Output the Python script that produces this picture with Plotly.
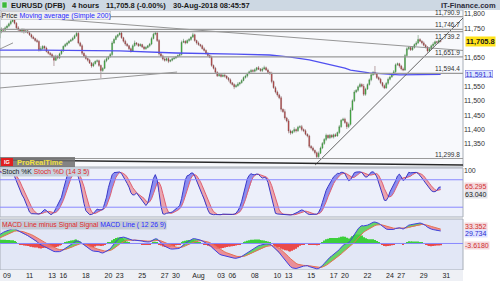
import numpy as np
import pandas as pd
import plotly.graph_objects as go

# ---------------- data (EUR/USD DFB, 4-hour bars, prices x10000) ----------------
# warm-up closes (Jul 2 - Jul 6 morning), only used to seed the indicators
pre_closes = [11650, 11640, 11625, 11610, 11600, 11595,
              11605, 11620, 11640, 11655, 11660, 11655,
              11650, 11655, 11660, 11665, 11660, 11658,
              11662, 11670, 11680, 11690, 11688, 11692,
              11700, 11716]

closes = [
    11738, 11748, 11744, 11752,                      # Jul 6 (tail)
    11758, 11766, 11774, 11780, 11768, 11752,        # Jul 9
    11745, 11740, 11746, 11738, 11742, 11735,        # Jul 10
    11728, 11720, 11715, 11708, 11705, 11676,        # Jul 11
    11680, 11688, 11682, 11670, 11664, 11660,        # Jul 12
    11652, 11640, 11654, 11648, 11662, 11672,        # Jul 13
    11688, 11694, 11700, 11706, 11710, 11716,        # Jul 16
    11725, 11733, 11700, 11690, 11664, 11655,        # Jul 17
    11646, 11640, 11630, 11620, 11628, 11636,        # Jul 18
    11638, 11622, 11604, 11612, 11638, 11645,        # Jul 19
    11652, 11660, 11700, 11712, 11722, 11728,        # Jul 20
    11734, 11718, 11706, 11696, 11690, 11680,        # Jul 23
    11672, 11690, 11700, 11696, 11690, 11694,        # Jul 24
    11686, 11680, 11684, 11690, 11696, 11715,        # Jul 25
    11730, 11734, 11708, 11662, 11655, 11644,        # Jul 26
    11640, 11646, 11636, 11640, 11645, 11648,        # Jul 27
    11652, 11656, 11660, 11702, 11706, 11700,        # Jul 30
    11708, 11712, 11720, 11728, 11708, 11700,        # Jul 31
    11694, 11690, 11680, 11674, 11664, 11656,        # Aug 1
    11650, 11622, 11612, 11598, 11586, 11590,        # Aug 2
    11584, 11588, 11585, 11578, 11572, 11562,        # Aug 3
    11556, 11548, 11552, 11558, 11562, 11570,        # Aug 6
    11580, 11585, 11594, 11600, 11604, 11602,        # Aug 7
    11607, 11614, 11609, 11604, 11610, 11614,        # Aug 8
    11606, 11598, 11594, 11566, 11545, 11530,        # Aug 9
    11520, 11510, 11470, 11462, 11440, 11430,        # Aug 10
    11395, 11388, 11394, 11400, 11396, 11408,        # Aug 13
    11410, 11400, 11396, 11384, 11378, 11342,        # Aug 14
    11336, 11328, 11320, 11306, 11318, 11336,        # Aug 15
    11352, 11366, 11380, 11372, 11380, 11374,        # Aug 16
    11382, 11378, 11390, 11410, 11432, 11436,        # Aug 17
    11424, 11410, 11418, 11468, 11500, 11530,        # Aug 20
    11536, 11548, 11556, 11550, 11522, 11540,        # Aug 21
    11556, 11572, 11590, 11598, 11592, 11580,        # Aug 22
    11574, 11562, 11552, 11544, 11560, 11574,        # Aug 23
    11582, 11590, 11600, 11624, 11628, 11620,        # Aug 24
    11610, 11606, 11656, 11680, 11684, 11676,        # Aug 27
    11684, 11694, 11700, 11712, 11706, 11700,        # Aug 28
    11692, 11686, 11672, 11680, 11690, 11696,        # Aug 29
    11704, 11702, 11708, 11705.8,                    # Aug 30
]

upper_wick = [
    4, 6, 3, 5,
    5, 4, 6, 11, 3, 4,   6, 3, 5, 4, 3, 4,   3, 4, 5, 3, 6, 4,   8, 4, 3, 5, 3, 4,   4, 6, 5, 3, 4, 5,
    3, 5, 4, 3, 4, 5,    4, 7, 6, 4, 5, 3,   4, 3, 5, 4, 6, 3,   5, 4, 3, 4, 5, 6,   3, 5, 6, 4, 5, 3,
    6, 4, 3, 5, 4, 3,    4, 5, 8, 3, 4, 5,   3, 4, 5, 3, 4, 6,   5, 6, 4, 5, 3, 4,   6, 4, 5, 3, 4, 5,
    3, 4, 5, 6, 8, 3,    4, 5, 3, 7, 4, 3,   5, 3, 4, 5, 3, 4,   4, 6, 3, 5, 4, 6,   5, 4, 8, 3, 4, 5,
    3, 4, 5, 6, 3, 4,    4, 5, 3, 4, 6, 5,   5, 3, 6, 4, 5, 7,   4, 5, 3, 6, 4, 5,   5, 4, 6, 3, 8, 4,
    6, 5, 4, 8, 4, 5,    5, 6, 4, 5, 3, 4,   4, 5, 3, 4, 6, 5,   5, 4, 6, 3, 5, 4,   4, 5, 3, 6, 4, 5,
    5, 4, 6, 8, 5, 6,    4, 5, 6, 4, 8, 5,   4, 5, 6, 4, 22, 5,  4, 5, 3, 4, 5, 6,   5, 4, 6, 5, 4, 3,
    4, 5, 6, 5, 4, 3,    5, 4, 6, 15, 4, 3,  5, 4, 3, 5, 4, 6,
    4, 3, 5, 3,
]

lower_wick = [
    4, 5, 3, 4,
    3, 4, 5, 3, 4, 5,    4, 3, 5, 6, 4, 3,   4, 5, 3, 4, 5, 6,   5, 4, 6, 3, 4, 5,   4, 20, 3, 5, 4, 3,
    4, 3, 5, 4, 3, 4,    3, 4, 5, 4, 6, 5,   4, 5, 3, 6, 4, 3,   4, 5, 26, 4, 3, 5,  4, 3, 5, 4, 3, 5,
    3, 4, 5, 6, 4, 5,    6, 4, 3, 5, 4, 3,   4, 5, 4, 3, 5, 4,   3, 4, 5, 6, 4, 5,   5, 4, 6, 3, 4, 3,
    4, 3, 5, 4, 3, 5,    3, 4, 5, 3, 4, 6,   4, 5, 3, 4, 5, 4,   3, 5, 4, 6, 4, 3,   4, 3, 5, 4, 6, 5,
    4, 8, 3, 4, 5, 3,    3, 4, 5, 3, 4, 5,   4, 5, 3, 4, 5, 3,   3, 4, 5, 6, 4, 5,   6, 5, 8, 4, 6, 5,
    8, 6, 4, 5, 6, 4,    4, 6, 5, 4, 5, 6,   5, 4, 6, 6, 4, 3,   4, 5, 6, 4, 5, 4,   5, 4, 3, 5, 4, 3,
    4, 8, 5, 4, 3, 5,    4, 5, 3, 4, 6, 5,   3, 4, 5, 4, 3, 5,   4, 5, 6, 4, 3, 5,   4, 3, 5, 4, 3, 6,
    5, 4, 3, 4, 5, 4,    3, 4, 5, 4, 3, 5,   4, 5, 6, 3, 4, 5,
    3, 4, 5, 4,
]

# 200-period simple moving average (bar position, value)
ma200_pos = [-4, 18, 60, 90, 122, 140, 151, 161, 180, 183, 193, 209, 231]
ma200_val = [11675, 11675, 11672, 11665, 11661, 11658, 11651, 11641, 11613, 11606, 11596, 11589, 11591.1]

levels = [11790.9, 11746.7, 11739.2, 11651.9, 11594.4, 11299.8]
level_labels = ["11,790.9", "11,746.7", "11,739.2", "11,651.9", "11,594.4", "11,299.8"]

# drawn trend lines: (pos0, price0, pos1, price1)
trendlines = [(-3.7, 11679, 3.2, 11700),
              (-3.7, 11544, 90.6, 11599),
              (0.5, 11794.5, 242.9, 11673.7),
              (164.1, 11277, 242.9, 11786),
              (-3.7, 11294.6, 242.9, 11277.3)]

day_index = [0, 2, 4, 5, 7, 9, 10, 12, 14, 15, 17, 19, 20, 22, 24, 25, 27, 29, 30, 32, 34, 35, 37, 39]
day_labels = ["09", "11", "13", "16", "18", "20", "23", "25", "27", "30", "Aug", "03", "06",
              "08", "10", "13", "15", "17", "20", "22", "24", "27", "29", "31"]

price_ticks = [11350, 11400, 11450, 11500, 11550, 11650, 11750, 11800]

BARS_PER_DAY = 6
FIRST_POS = -4

# ---------------- derived series ----------------
n = len(closes)
pos = np.arange(n) + FIRST_POS
opens = [pre_closes[-1]] + closes[:-1]
highs = [max(a, b) + u for a, b, u in zip(opens, closes, upper_wick)]
lows = [min(a, b) - l for a, b, l in zip(opens, closes, lower_wick)]

all_c = pd.Series(pre_closes + closes, dtype=float)
all_h = pd.Series(pre_closes + highs, dtype=float)
all_l = pd.Series(pre_closes + lows, dtype=float)
hh = all_h.rolling(14, min_periods=1).max()
ll = all_l.rolling(14, min_periods=1).min()
raw_k = 100 * (all_c - ll) / (hh - ll)
stoch_k = raw_k.rolling(3, min_periods=1).mean()
stoch_d = stoch_k.rolling(5, min_periods=1).mean()
ema12 = all_c.ewm(span=12, adjust=False).mean()
ema26 = all_c.ewm(span=26, adjust=False).mean()
macd = ema12 - ema26
signal = macd.ewm(span=9, adjust=False).mean()
hist = macd - signal

sk = stoch_k.values[-n:]
sd = stoch_d.values[-n:]
mline = macd.values[-n:]
sline = signal.values[-n:]
mhist = hist.values[-n:]

# ---------------- geometry ----------------
W, H = 500, 281
XR = 463 / W
def py(px):
    return 1 - px / H

FONT = "Liberation Sans"
fig = go.Figure()

# price
fig.add_trace(go.Candlestick(
    x=pos, open=opens, high=highs, low=lows, close=closes,
    increasing=dict(fillcolor="#24c024", line=dict(color="#4f7a4f", width=0.5)),
    decreasing=dict(fillcolor="#d42c2c", line=dict(color="#7a4f4f", width=0.5)),
    whiskerwidth=0, hoverinfo="skip", xaxis="x", yaxis="y"))
fig.add_trace(go.Scatter(x=ma200_pos, y=ma200_val, mode="lines",
                         line=dict(color="#5050f0", width=1.3), xaxis="x", yaxis="y", hoverinfo="skip"))
for i, (x0, y0, x1, y1) in enumerate(trendlines):
    col = "#2a2a2a" if i == 4 else ("#555555" if i == 3 else "#8a8a8a")
    wid = 1.6 if i == 4 else 0.9
    fig.add_trace(go.Scatter(x=[x0, x1], y=[y0, y1], mode="lines",
                             line=dict(color=col, width=wid), xaxis="x", yaxis="y", hoverinfo="skip"))

# stochastic
k_min = np.minimum(sk, sd)
fig.add_trace(go.Scatter(x=pos, y=k_min, mode="lines", line=dict(width=0), xaxis="x", yaxis="y2", hoverinfo="skip"))
fig.add_trace(go.Scatter(x=pos, y=sk, mode="lines", fill="tonexty", fillcolor="rgba(110,110,235,0.75)",
                         line=dict(width=0), xaxis="x", yaxis="y2", hoverinfo="skip"))
fig.add_trace(go.Scatter(x=pos, y=k_min, mode="lines", line=dict(width=0), xaxis="x", yaxis="y2", hoverinfo="skip"))
fig.add_trace(go.Scatter(x=pos, y=sd, mode="lines", fill="tonexty", fillcolor="rgba(235,140,150,0.75)",
                         line=dict(width=0), xaxis="x", yaxis="y2", hoverinfo="skip"))
fig.add_trace(go.Scatter(x=pos, y=sd, mode="lines", line=dict(color="#e06070", width=1),
                         xaxis="x", yaxis="y2", hoverinfo="skip"))
fig.add_trace(go.Scatter(x=pos, y=sk, mode="lines", line=dict(color="#3838c8", width=1),
                         xaxis="x", yaxis="y2", hoverinfo="skip"))

# MACD
fig.add_trace(go.Bar(x=pos, y=mhist, width=0.55,
                     marker=dict(color=["#3ccf3c" if v >= 0 else "#ea4a4a" for v in mhist], line=dict(width=0)),
                     xaxis="x", yaxis="y3", hoverinfo="skip"))
m_min = np.minimum(mline, sline)
fig.add_trace(go.Scatter(x=pos, y=m_min, mode="lines", line=dict(width=0), xaxis="x", yaxis="y3", hoverinfo="skip"))
fig.add_trace(go.Scatter(x=pos, y=mline, mode="lines", fill="tonexty", fillcolor="rgba(70,205,70,0.8)",
                         line=dict(width=0), xaxis="x", yaxis="y3", hoverinfo="skip"))
fig.add_trace(go.Scatter(x=pos, y=m_min, mode="lines", line=dict(width=0), xaxis="x", yaxis="y3", hoverinfo="skip"))
fig.add_trace(go.Scatter(x=pos, y=sline, mode="lines", fill="tonexty", fillcolor="rgba(235,120,130,0.8)",
                         line=dict(width=0), xaxis="x", yaxis="y3", hoverinfo="skip"))
fig.add_trace(go.Scatter(x=pos, y=sline, mode="lines", line=dict(color="#e87050", width=1),
                         xaxis="x", yaxis="y3", hoverinfo="skip"))
fig.add_trace(go.Scatter(x=pos, y=mline, mode="lines", line=dict(color="#4040e0", width=1),
                         xaxis="x", yaxis="y3", hoverinfo="skip"))

shapes = []
# panel backgrounds
for ref, col in (("y", "#f8f9fc"), ("y2", "#eceffa"), ("y3", "#e2e7f6")):
    shapes.append(dict(type="rect", xref="x domain", yref=ref + " domain", x0=0, x1=1, y0=0, y1=1,
                       fillcolor=col, line=dict(color="#a8aeb8", width=1), layer="below"))
# title bar and time axis band
shapes.append(dict(type="rect", xref="paper", yref="paper", x0=0, x1=1, y0=py(10), y1=1,
                   fillcolor="#cdd8e3", line=dict(width=0), layer="below"))
shapes.append(dict(type="rect", xref="paper", yref="paper", x0=0, x1=XR, y0=0, y1=py(270),
                   fillcolor="#eef0f5", line=dict(width=0), layer="below"))
shapes.append(dict(type="rect", xref="paper", yref="paper", x0=2 / W, x1=7 / W, y0=py(8), y1=py(2),
                   fillcolor="#3cb83c", line=dict(color="#ffffff", width=0.5)))
# horizontal price levels
for lv in levels:
    shapes.append(dict(type="line", xref="x domain", yref="y", x0=0, x1=1, y0=lv, y1=lv,
                       line=dict(color="#9a9a9a", width=1.2)))
# stochastic 80/20, MACD zero
for lv in (80, 20):
    shapes.append(dict(type="line", xref="x domain", yref="y2", x0=0, x1=1, y0=lv, y1=lv,
                       line=dict(color="#8888ff", width=1)))
shapes.append(dict(type="line", xref="x domain", yref="y3", x0=0, x1=1, y0=0, y1=0,
                   line=dict(color="#8888ff", width=1)))
# ProRealTime logo box
shapes.append(dict(type="rect", xref="paper", yref="paper", x0=0, x1=75 / W, y0=py(167), y1=py(157),
                   fillcolor="rgba(110,110,110,0.85)", line=dict(width=0)))
shapes.append(dict(type="rect", xref="paper", yref="paper", x0=1 / W, x1=13 / W, y0=py(166), y1=py(158),
                   fillcolor="#e02020", line=dict(width=0)))

ann = []
def txt(x, y, s, size=7, color="#1a1a1a", bold=False, xanchor="left", yanchor="middle", bg=None,
        border=None, xref="paper", yref="paper", yshift=0):
    d = dict(x=x, y=y, xref=xref, yref=yref, text=("<b>%s</b>" % s) if bold else s, showarrow=False,
             xanchor=xanchor, yanchor=yanchor, font=dict(family=FONT, size=size, color=color), yshift=yshift)
    if bg:
        d["bgcolor"] = bg
        d["borderpad"] = 0
    if border:
        d["bordercolor"] = border
        d["borderwidth"] = 0.5
    ann.append(d)

# title bar
txt(9 / W, py(5), "EURUSD (DFB)", size=7.5, bold=True)
txt(70 / W, py(5), "4 hours", size=7.5, bold=True)
txt(104 / W, py(5), "11,705.8 (-0.00%)", size=7.5, bold=True)
txt(171 / W, py(5), "30-Aug-2018 08:45:57", size=7.5, bold=True)
txt(498 / W, py(5), "IT-Finance.com", size=7.5, bold=True, xanchor="right", color="#2a2a3a")

# panel labels
txt(1 / W, py(15), "Price <span style='color:#2a2aff'>Moving average (Simple 200)</span>",
    size=7, bg="#eeeeee", border="#b0b0b0")
txt(1 / W, py(172), "Stoch %K <span style='color:#e02828'>Stoch %D (14 3 5)</span>",
    size=6.8, bg="#c6d2de")
txt(1 / W, py(224.5), "<span style='color:#e02828'>MACD Line minus Signal Signal</span> "
    "<span style='color:#2a2aff'>MACD Line ( 12 26 9)</span>", size=6.8, bg="#c4cad6")
txt(15 / W, py(162), "ProRealTime", size=7.5, bold=True, color="#f0e040")
txt(7 / W, py(162), "IG", size=5.5, bold=True, color="#ffffff", xanchor="center")

# level labels (second of the close pair sits just under its line)
for lv, lab in zip(levels, level_labels):
    below = lab == "11,739.2"
    txt(XR - 1 / W, lv, lab, size=6.5, color="#303030", xanchor="right",
        yanchor="top" if below else "bottom", yref="y", yshift=1 if below else -1)

# right-axis value boxes
txt(465 / W, 11705.8, "11,705.8", size=7.5, bold=True, bg="#ffe21a", yref="y")
txt(465 / W, 11591.1, "11,591.1", size=7, color="#2a2ad0", bg="#dfe8ff", border="#6a6ae0", yref="y")
txt(464 / W, 65.295, "65.295", size=7, color="#d03030", bg="#f4d8dc", yref="y2")
txt(464 / W, 63.04, "63.040", size=7, color="#202020", bg="#e4e4ea", yref="y2", yshift=-7)
txt(464 / W, 33.352, "33.352", size=7, color="#d03030", bg="#f4d8dc", yref="y3", yshift=2)
txt(464 / W, 29.734, "29.734", size=7, color="#2a2ad0", bg="#dfe3ff", yref="y3", yshift=-4)
txt(464 / W, -3.618, "-3.6180", size=7, color="#d03030", bg="#f4d8dc", yref="y3")

fig.update_layout(
    width=W, height=H, margin=dict(l=0, r=0, t=0, b=0),
    paper_bgcolor="#ffffff", plot_bgcolor="rgba(0,0,0,0)", showlegend=False,
    font=dict(family=FONT, size=7, color="#222222"),
    xaxis=dict(domain=[0, XR], range=[-3.73, 242.9], anchor="y3", showgrid=False, zeroline=False,
               tickvals=[d * BARS_PER_DAY for d in day_index], ticktext=day_labels, ticks="",
               tickfont=dict(family=FONT, size=7, color="#222222"), rangeslider=dict(visible=False),
               showline=False),
    yaxis=dict(domain=[py(167), py(10)], range=[11270.4, 11813.8], side="right", anchor="x",
               tickvals=price_ticks, tickformat=",d", showgrid=False, zeroline=False, ticks="",
               tickfont=dict(family=FONT, size=7, color="#333333")),
    yaxis2=dict(domain=[py(217), py(168)], range=[-1.4, 105.7], side="right", anchor="x",
                tickvals=[100], ticktext=["100"], showgrid=False, zeroline=False, ticks="",
                tickfont=dict(family=FONT, size=7, color="#333333")),
    yaxis3=dict(domain=[py(270), py(219)], range=[-57.4, 53], side="right", anchor="x",
                showticklabels=False, showgrid=False, zeroline=False),
    shapes=shapes, annotations=ann,
)
fig.write_html("out.html")
